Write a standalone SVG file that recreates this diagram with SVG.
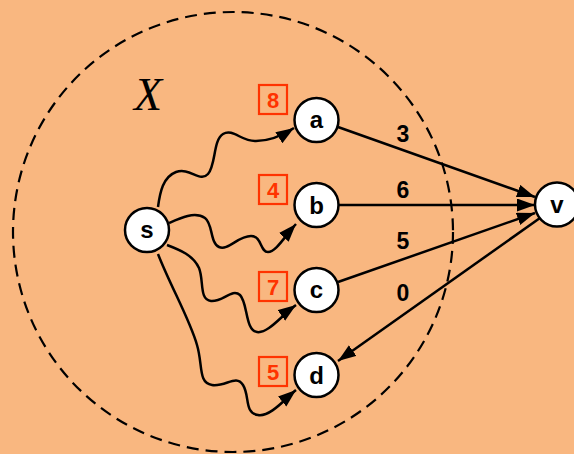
<svg xmlns="http://www.w3.org/2000/svg" width="574" height="454" viewBox="0 0 574 454">
<defs>
<style>
.node circle{fill:#fff;stroke:#000;stroke-width:2.5}
.node text{font-family:"Liberation Sans",Arial,sans-serif;font-weight:bold;font-size:24px;text-anchor:middle;fill:#000}
.box rect{fill:none;stroke:#ff3300;stroke-width:2.2}
.box text{font-family:"Liberation Sans",Arial,sans-serif;font-weight:bold;font-size:22px;text-anchor:middle;fill:#ff3300}
.edge{fill:none;stroke:#000;stroke-width:2.5;marker-end:url(#ah)}
.elabel{font-family:"Liberation Sans",Arial,sans-serif;font-weight:bold;font-size:23px;text-anchor:middle;fill:#000}
</style>
<marker id="ah" markerUnits="userSpaceOnUse" markerWidth="20" markerHeight="14" refX="18" refY="6.5" orient="auto">
<path d="M0,0 L18,6.5 L0,13 z" fill="#000"/>
</marker>
</defs>
<rect width="574" height="454" fill="#f9b780"/>
<circle cx="233" cy="232" r="220" fill="none" stroke="#000" stroke-width="2.2" stroke-dasharray="12,7"/>
<text x="148" y="110" font-family="Liberation Serif,Times New Roman,serif" font-style="italic" font-size="46" text-anchor="middle">X</text>
<g id="connectors">
<path class="edge" d="M158,207 C160,192 163,177 176,172 C190,167 200,183 208,174 C216,165 213,140 223,134 C233,128 242,142 256,141 C268,141 280,137 294,128"/>
<path class="edge" d="M169,223 C180,218 195,211 205,218 C213,224 210,243 219,247 C228,251 238,236 251,236 C262,236 260,252 268,252 C276,252 285,236 296,224"/>
<path class="edge" d="M167,245 C180,250 193,255 199,268 C204,280 199,300 211,301 C223,302 232,288 240,295 C248,303 245,330 257,332 C268,334 282,315 296,305"/>
<path class="edge" d="M158,254 C170,285 190,320 197,345 C203,365 198,383 212,385 C226,387 236,374 243,385 C250,396 244,413 258,415 C270,417 284,400 296,390"/>
<path class="edge" d="M338,127 L535,197"/>
<path class="edge" d="M338,205 L535,205"/>
<path class="edge" d="M338,282 L535,213"/>
<path class="edge" d="M540,218 L338,361"/>
<text class="elabel" x="403" y="142">3</text>
<text class="elabel" x="403" y="198">6</text>
<text class="elabel" x="403" y="249">5</text>
<text class="elabel" x="403" y="301">0</text>
</g>
<g id="box-a" class="box"><rect x="259" y="85" width="28" height="29"/><text x="273" y="107.5">8</text></g>
<g id="box-b" class="box"><rect x="259" y="175" width="28" height="29"/><text x="273" y="197.5">4</text></g>
<g id="box-c" class="box"><rect x="259" y="272" width="28" height="29"/><text x="273" y="294.5">7</text></g>
<g id="box-d" class="box"><rect x="259" y="357" width="28" height="29"/><text x="273" y="379.5">5</text></g>
<g id="node-s" class="node"><circle cx="147" cy="230" r="22"/><text x="147" y="238">s</text></g>
<g id="node-a" class="node"><circle cx="316.5" cy="120" r="22"/><text x="316.5" y="128">a</text></g>
<g id="node-b" class="node"><circle cx="316.5" cy="205" r="22"/><text x="316.5" y="213.5">b</text></g>
<g id="node-c" class="node"><circle cx="316.5" cy="290" r="22"/><text x="316.5" y="298">c</text></g>
<g id="node-d" class="node"><circle cx="316.5" cy="375" r="22"/><text x="316.5" y="383.5">d</text></g>
<g id="node-v" class="node"><circle cx="557" cy="204.5" r="22"/><text x="557" y="212.5">v</text></g>
</svg>
